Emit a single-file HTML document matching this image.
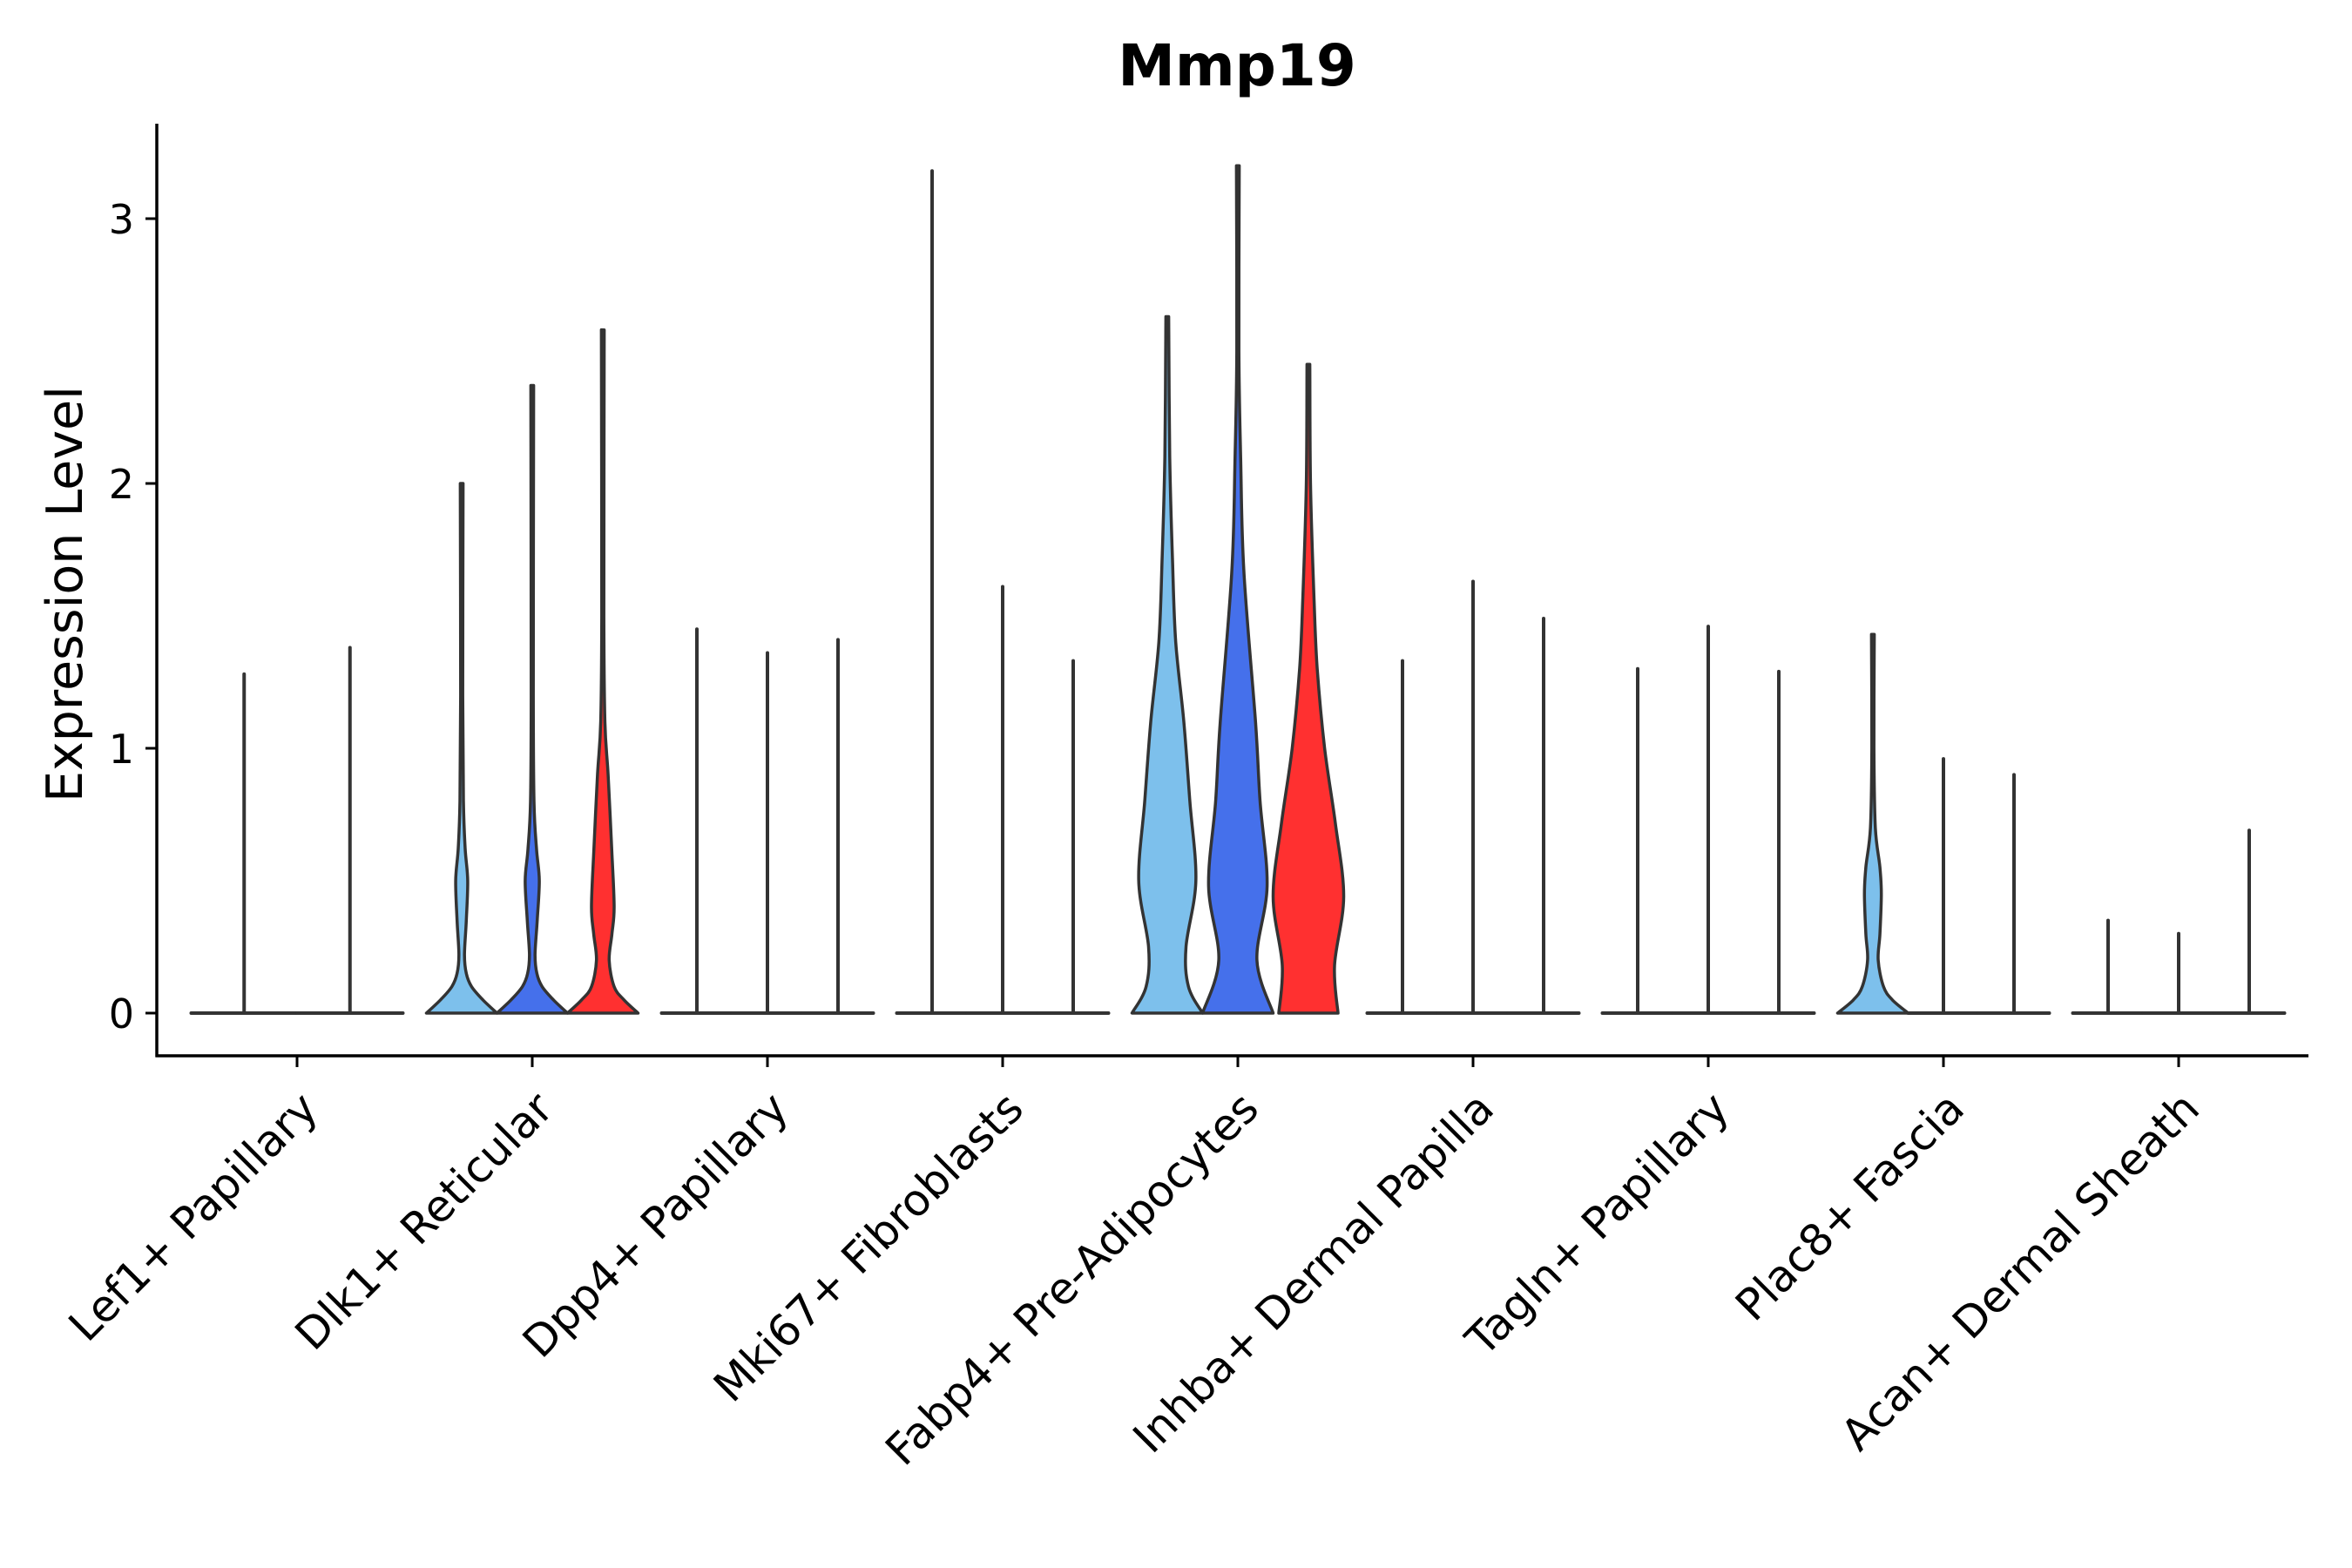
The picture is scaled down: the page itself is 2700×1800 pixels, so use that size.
<!DOCTYPE html>
<html><head><meta charset="utf-8"><style>
html,body{margin:0;padding:0;background:#fff;}
svg{display:block;font-family:"DejaVu Sans","Liberation Sans",sans-serif;}
</style></head><body>
<svg id="chart" width="2700" height="1800" viewBox="0 0 2700 1800" xmlns="http://www.w3.org/2000/svg">
<rect width="2700" height="1800" fill="#fff"/>
<text x="1420" y="98" text-anchor="middle" font-size="66" font-weight="bold" fill="#000">Mmp19</text>
<text transform="translate(94,682) rotate(-90)" text-anchor="middle" font-size="57" fill="#000">Expression Level</text>
<g id="plot"></g>
</svg>
<script>
const categories = ["Lef1+ Papillary","Dlk1+ Reticular","Dpp4+ Papillary","Mki67+ Fibroblasts","Fabp4+ Pre-Adipocytes","Inhba+ Dermal Papilla","Tagln+ Papillary","Plac8+ Fascia","Acan+ Dermal Sheath"];
const seriesColors = ["#7DC0EC","#4570EB","#FF3030"];
// max expression per group per sub-violin (null = subgroup absent)
const maxLightBlue = [1.28,2.0,1.45,3.18,2.63,1.33,1.30,1.43,0.35];
const maxBlue      = [null,2.37,1.36,1.61,3.20,1.63,1.46,0.96,0.30];
const maxRed       = [1.38,2.58,1.41,1.33,2.45,1.49,1.29,0.90,0.69];
// density profiles: [value, relative half-width]
const profileG2a = [[0,1],[0.05,0.6],[0.1,0.28],[0.15,0.13],[0.22,0.08],[0.35,0.13],[0.5,0.17],[0.62,0.1],[0.8,0.05],[1.2,0.03]];
const profileG2b = [[0,1],[0.05,0.6],[0.1,0.28],[0.15,0.13],[0.22,0.08],[0.35,0.14],[0.5,0.2],[0.62,0.12],[0.8,0.05],[1.2,0.03]];
const profileG2c = [[0,1],[0.05,0.6],[0.1,0.32],[0.2,0.18],[0.3,0.26],[0.4,0.32],[0.6,0.26],[0.9,0.15],[1.1,0.06],[1.5,0.03]];
const profileG5a = [[0,1],[0.1,0.6],[0.25,0.53],[0.5,0.81],[0.8,0.64],[1.1,0.47],[1.4,0.24],[1.7,0.15],[2.1,0.07]];
const profileG5b = [[0,1],[0.2,0.54],[0.48,0.83],[0.8,0.63],[1.1,0.5],[1.67,0.17],[2.1,0.08],[2.5,0.03]];
const profileG5c = [[0,0.84],[0.18,0.74],[0.44,1],[0.72,0.76],[1.0,0.46],[1.3,0.25],[1.56,0.16],[2.0,0.06]];
const profileG8a = [[0,1],[0.05,0.55],[0.1,0.3],[0.2,0.15],[0.3,0.2],[0.45,0.24],[0.55,0.2],[0.7,0.07],[1.0,0.03]];
const profiles = {"1-0":profileG2a,"1-1":profileG2b,"1-2":profileG2c,"4-0":profileG5a,"4-1":profileG5b,"4-2":profileG5c,"7-0":profileG8a};
const yTicks = [0,1,2,3];

const NS="http://www.w3.org/2000/svg";
const g=document.getElementById('plot');
const X0=180, XR=2650, Y0=1163, UNIT=304, YT=142, YB=1212, GAP=270, FIRST=341;
const y=v=>Y0-v*UNIT;
const xc=i=>FIRST+i*GAP;
function mk(tag,attrs){const e=document.createElementNS(NS,tag);for(const k in attrs)e.setAttribute(k,attrs[k]);g.appendChild(e);return e;}

function violinPath(cx,pts,maxv,HW){
  const p=pts.filter(q=>q[0]<maxv).concat([[maxv,0.04]]);
  const right=p.map(q=>[cx+q[1]*HW,y(q[0])]);
  const left=p.slice().reverse().map(q=>[cx-q[1]*HW,y(q[0])]);
  function cr(a){let d='';for(let i=0;i<a.length-1;i++){const p0=a[Math.max(0,i-1)],p1=a[i],p2=a[i+1],p3=a[Math.min(a.length-1,i+2)];
    const c1=[p1[0]+(p2[0]-p0[0])/6,p1[1]+(p2[1]-p0[1])/6],c2=[p2[0]-(p3[0]-p1[0])/6,p2[1]-(p3[1]-p1[1])/6];
    d+=` C${c1[0].toFixed(1)},${c1[1].toFixed(1)} ${c2[0].toFixed(1)},${c2[1].toFixed(1)} ${p2[0].toFixed(1)},${p2[1].toFixed(1)}`;}return d;}
  return `M${left[left.length-1][0]},${y(0)} L${right[0][0]},${right[0][1]}`+cr(right)+` L${left[0][0]},${left[0][1]}`+cr(left)+' Z';
}
const maxs=[maxLightBlue,maxBlue,maxRed];
categories.forEach((c,i)=>{
  const present=[0,1,2].filter(s=>maxs[s][i]!==null);
  const n=present.length;
  const dodge=GAP*0.9, slot=dodge/n, HW=slot/2;
  present.forEach((s,k)=>{
    const cx=xc(i)-dodge/2+slot*(k+0.5), mv=maxs[s][i];
    const prof=profiles[i+'-'+s];
    let el;
    if(prof){
      el=mk('path',{d:violinPath(cx,prof,mv,HW),fill:seriesColors[s],stroke:'#333','stroke-width':3.5,'stroke-linejoin':'round'});
    } else {
      const d=`M${cx-HW},${y(0)} L${cx+HW},${y(0)} M${cx},${y(0)} L${cx},${y(mv)}`;
      el=mk('path',{d:d,fill:'none',stroke:'#333','stroke-width':4,'stroke-linecap':'round'});
    }
    
    
  });
  const t=mk('line',{x1:xc(i),x2:xc(i),y1:YB,y2:YB+13,stroke:'#000','stroke-width':3});
  
  
  const lab=mk('text',{transform:`translate(${xc(i)+1},${YB+38}) rotate(-45)`,'text-anchor':'end','font-size':50,fill:'#000',dy:'0.72em'});
  lab.textContent=c;
  
  
});
yTicks.forEach(v=>{
  const t=mk('line',{x1:X0-13,x2:X0,y1:y(v),y2:y(v),stroke:'#000','stroke-width':3});
  
  
  const l=mk('text',{x:X0-26,y:y(v)+17,'text-anchor':'end','font-size':46,fill:'#000'});
  l.textContent=v;
  
  
});
const ya=mk('line',{x1:X0,x2:X0,y1:YT,y2:YB+1.5,stroke:'#000','stroke-width':3.5});


const xa=mk('line',{x1:X0-1.5,x2:XR,y1:YB,y2:YB,stroke:'#000','stroke-width':3.5});


</script>
</body></html>
